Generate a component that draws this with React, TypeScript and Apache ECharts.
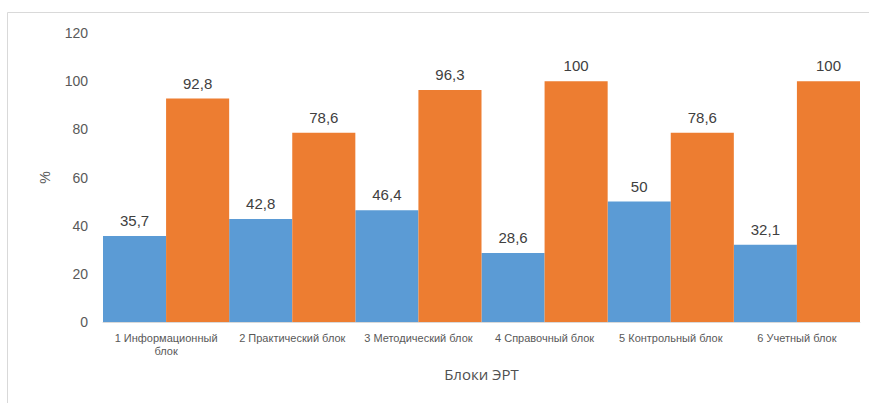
import React, { useEffect, useRef } from "react";
import * as echarts from "echarts";

const categories = [
  "1 Информационный блок",
  "2 Практический блок",
  "3 Методический блок",
  "4 Справочный блок",
  "5 Контрольный блок",
  "6 Учетный блок",
];
const seriesA = [35.7, 42.8, 46.4, 28.6, 50, 32.1];
const seriesB = [92.8, 78.6, 96.3, 100, 78.6, 100];
const yTicks = { min: 0, max: 120, interval: 20 };

const fmt = (v: number) => String(v).replace(".", ",");
const wrap = (s: string) => {
  if (s.length <= 20) return s;
  const i = s.lastIndexOf(" ");
  return s.slice(0, i) + "\n" + s.slice(i + 1);
};

export default function App() {
  const ref = useRef<HTMLDivElement>(null);
  useEffect(() => {
    if (!ref.current) return;
    const chart = echarts.init(ref.current, undefined, { renderer: "svg" });
    const labelStyle = {
      show: true,
      position: "top" as const,
      distance: 8,
      fontSize: 15,
      fontWeight: 400,
      color: "#404040",
      fontFamily: "Liberation Sans",
      formatter: (p: any) => fmt(p.value),
    };
    chart.setOption({
      animation: false,
      backgroundColor: "#ffffff",
      textStyle: { fontFamily: "Liberation Sans" },
      graphic: [
        {
          type: "rect",
          shape: { x: 7.5, y: 12.5, width: 1000, height: 600 },
          style: { fill: "none", stroke: "#d9d9d9", lineWidth: 1 },
          silent: true,
        },
      ],
      grid: { left: 103, right: 9, top: 33, bottom: 81, containLabel: false },
      xAxis: {
        type: "category",
        data: categories,
        axisLine: { show: true, lineStyle: { color: "#d9d9d9", width: 1 } },
        axisTick: { show: false },
        axisLabel: {
          interval: 0,
          fontSize: 11,
          color: "#595959",
          margin: 9,
          lineHeight: 13,
          formatter: (v: string) => wrap(v),
        },
        name: "Блоки ЭРТ",
        nameLocation: "middle",
        nameGap: 44,
        nameTextStyle: { fontSize: 15, color: "#505050", fontFamily: "Open Sans" },
      },
      yAxis: {
        type: "value",
        min: yTicks.min,
        max: yTicks.max,
        interval: yTicks.interval,
        axisLine: { show: false },
        axisTick: { show: false },
        splitLine: { show: false },
        axisLabel: { fontSize: 14, color: "#595959", margin: 15 },
        name: "%",
        nameLocation: "middle",
        nameRotate: 90,
        nameGap: 51,
        nameTextStyle: { fontSize: 14, color: "#595959" },
      },
      series: [
        {
          type: "bar",
          data: seriesA,
          barGap: "0%",
          barCategoryGap: "0%",
          itemStyle: { color: "#5B9BD5" },
          label: labelStyle,
        },
        {
          type: "bar",
          data: seriesB,
          barGap: "0%",
          barCategoryGap: "0%",
          itemStyle: { color: "#ED7D31" },
          label: labelStyle,
        },
      ],
    });
    return () => chart.dispose();
  }, []);
  return (
    <div
      ref={ref}
      style={{ position: "absolute", left: 0, top: 0, width: 869, height: 403 }}
    />
  );
}
